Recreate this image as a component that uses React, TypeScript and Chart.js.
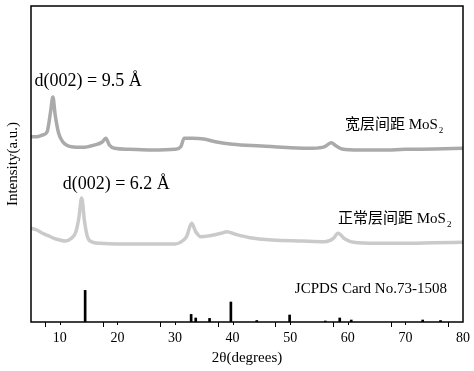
import React, { useEffect, useRef } from "react";
import { Chart, registerables } from "chart.js";

Chart.register(...registerables);

// 2θ positions and intensities (a.u.)
const wideX = [5, 6, 7, 7.8, 8.4, 8.8, 9.2, 9.8, 10.5, 12, 14, 16, 17.3, 18, 18.6, 19.5, 22, 26, 30, 31, 31.6, 32, 33, 35, 37, 40, 45, 50, 54, 56, 57.1, 58, 59, 62, 66, 70, 75, 80];
const wideY = [185.3, 185.3, 187, 190.3, 210.3, 225, 207, 188.7, 180.3, 175.3, 174.7, 177, 179.7, 183.7, 177, 173.7, 172.7, 172, 172.7, 175.3, 183.7, 183.7, 183.7, 183, 180.3, 177.7, 176, 174.3, 173.7, 175.3, 179.3, 176, 173, 172, 172, 172.7, 173, 173.7];

const normalX = [5, 6, 7, 8, 9, 10, 11, 12, 12.8, 13.3, 13.8, 14.3, 14.8, 15.5, 17, 20, 25, 30, 31.5, 32, 32.9, 33.6, 34.5, 36, 38, 39, 40.5, 43, 47, 52, 56, 57.5, 58.3, 59.5, 61, 65, 70, 75, 80];
const normalY = [93.7, 92, 88.7, 86.3, 83.7, 82, 81, 83.7, 90.3, 103.7, 124, 100.3, 85.3, 80.3, 78.7, 78, 78, 78, 82, 85.3, 98.7, 90.3, 85.3, 86.3, 88.7, 90.3, 87.7, 84.3, 82, 81, 80.3, 83.7, 88.7, 83, 79.7, 78.7, 78.7, 79.3, 79.7];

// JCPDS Card No.73-1508 reference lines
const refX = [14.4, 32.8, 33.6, 36.0, 39.7, 44.2, 49.9, 56.1, 58.6, 60.6, 73.0, 76.1];
const refH = [31.6, 7.6, 4, 3.6, 20, 1.5, 7, 1, 4, 2, 2, 1.5];

const xMin = 5;
const xMax = 80;
const yMax = 316;
const xTickStep = 5;

const labels = [
  { x: 5.62, y: 236, text: "d(002) = 9.5 Å", size: 18, sub: "" },
  { x: 10.5, y: 133.5, text: "d(002) = 6.2 Å", size: 18, sub: "" },
  { x: 59.5, y: 193.5, text: "宽层间距 MoS", size: 15, sub: "2" },
  { x: 58.3, y: 99.5, text: "正常层间距 MoS", size: 15, sub: "2" },
  { x: 50.8, y: 29, text: "JCPDS Card No.73-1508", size: 15, sub: "" },
];

const FONT = "'Liberation Serif', 'Noto Sans CJK SC', serif";

const decorPlugin = {
  id: "decor",
  afterDatasetsDraw(chart: any) {
    const { ctx, chartArea, scales } = chart;
    const xs = scales.x;
    const ys = scales.y;
    ctx.save();
    // frame
    ctx.strokeStyle = "#000";
    ctx.lineWidth = 1.5;
    ctx.strokeRect(chartArea.left, chartArea.top, chartArea.right - chartArea.left, chartArea.bottom - chartArea.top);
    // minor ticks
    ctx.lineWidth = 1;
    for (let v = xMin + xTickStep; v < xMax; v += xTickStep * 2) {
      const px = Math.round(xs.getPixelForValue(v)) + 0.5;
      ctx.beginPath();
      ctx.moveTo(px, chartArea.bottom);
      ctx.lineTo(px, chartArea.bottom + 3);
      ctx.stroke();
    }
    // annotations
    ctx.fillStyle = "#000";
    ctx.textBaseline = "alphabetic";
    ctx.textAlign = "left";
    for (const l of labels) {
      const px = xs.getPixelForValue(l.x);
      const py = ys.getPixelForValue(l.y);
      ctx.font = `${l.size}px ${FONT}`;
      ctx.fillText(l.text, px, py);
      if (l.sub) {
        const w = ctx.measureText(l.text).width;
        ctx.font = `${l.size * 0.6}px ${FONT}`;
        ctx.fillText(l.sub, px + w + 1, py + 4);
      }
    }
    ctx.restore();
  },
};

export default function App() {
  const ref = useRef<HTMLCanvasElement | null>(null);
  useEffect(() => {
    if (!ref.current) return;
    const chart = new Chart(ref.current, {
      type: "line",
      data: {
        datasets: [
          {
            type: "line",
            data: wideX.map((x, i) => ({ x, y: wideY[i] })),
            borderColor: "rgb(170,170,170)",
            borderWidth: 3.5,
            pointRadius: 0,
            cubicInterpolationMode: "monotone",
          },
          {
            type: "line",
            data: normalX.map((x, i) => ({ x, y: normalY[i] })),
            borderColor: "rgb(202,202,202)",
            borderWidth: 3.5,
            pointRadius: 0,
            cubicInterpolationMode: "monotone",
          },
          {
            type: "bar",
            data: refX.map((x, i) => ({ x, y: refH[i] })),
            backgroundColor: "#000",
            barThickness: 2,
            grouped: false,
          } as any,
        ],
      },
      options: {
        animation: false,
        responsive: true,
        maintainAspectRatio: false,
        layout: { padding: { top: 6, right: 11, left: 0, bottom: 0 } },
        plugins: { legend: { display: false }, tooltip: { enabled: false } },
        scales: {
          x: {
            type: "linear",
            min: xMin,
            max: xMax,
            offset: false,
            ticks: {
              stepSize: xTickStep,
              color: "#000",
              font: { family: FONT, size: 14 },
              padding: 3,
              maxRotation: 0,
              autoSkip: false,
              callback: (v: any) => (Number(v) % 10 === 0 ? String(v) : ""),
            },
            grid: {
              display: true,
              drawOnChartArea: false,
              drawTicks: true,
              tickLength: 5,
              tickColor: (c: any) => (c.tick && c.tick.value % 10 === 0 ? "#000" : "rgba(0,0,0,0)"),
              tickWidth: 1,
            },
            border: { display: false },
            title: {
              display: true,
              text: "2θ(degrees)",
              color: "#000",
              font: { family: FONT, size: 15 },
              padding: { top: 0, bottom: 4 },
            },
            afterFit: (s: any) => {
              s.height = 49;
            },
          },
          y: {
            type: "linear",
            min: 0,
            max: yMax,
            ticks: { display: false },
            grid: { display: false },
            border: { display: false },
            title: {
              display: true,
              text: "Intensity(a.u.)",
              color: "#000",
              font: { family: FONT, size: 15 },
              padding: { top: 4, bottom: 0 },
            },
            afterFit: (s: any) => {
              s.width = 31;
            },
          },
        },
      },
      plugins: [decorPlugin],
    } as any);
    return () => chart.destroy();
  }, []);
  return (
    <div style={{ position: "fixed", left: 0, top: 0, width: 474, height: 371, background: "#fff" }}>
      <canvas ref={ref} />
    </div>
  );
}
